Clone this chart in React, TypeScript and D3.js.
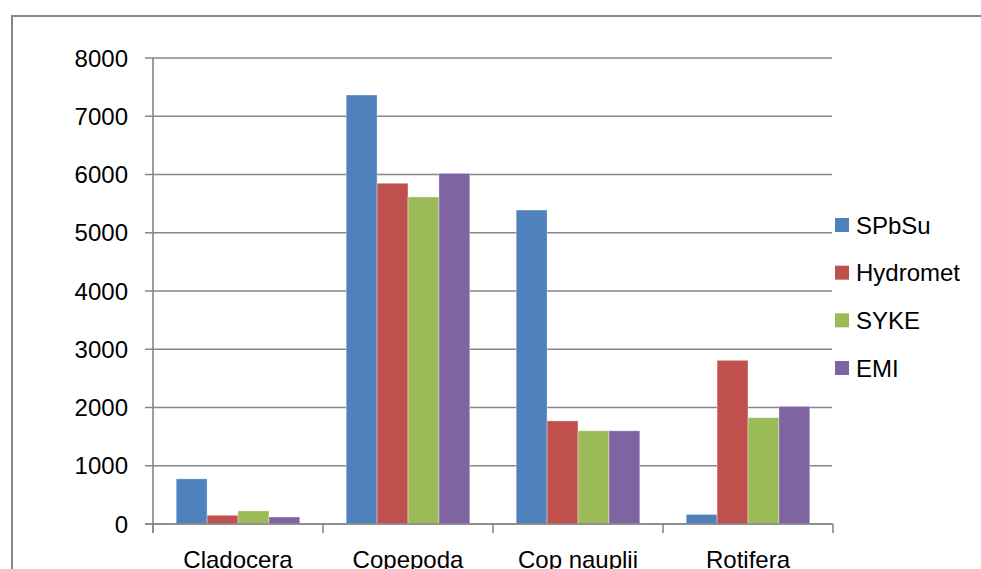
import React from "react";
import * as d3 from "d3";

const categories = ["Cladocera", "Copepoda", "Cop nauplii", "Rotifera"];
const seriesNames = ["SPbSu", "Hydromet", "SYKE", "EMI"];
const spbsu = [775, 7365, 5390, 165];
const hydromet = [150, 5850, 1770, 2810];
const syke = [225, 5615, 1600, 1825];
const emi = [120, 6020, 1600, 2020];
const yTicks = [0, 1000, 2000, 3000, 4000, 5000, 6000, 7000, 8000];
const colors = ["#4F81BD", "#C0504D", "#9BBB59", "#8064A2"];

const W = 981;
const H = 569;
const FONT = "'Liberation Sans', Arial, sans-serif";

export default function App() {
  const values = [spbsu, hydromet, syke, emi];
  const x0 = d3.scaleBand().domain(categories).range([153, 833]).paddingInner(0).paddingOuter(0);
  const y = d3.scaleLinear().domain([0, 8000]).range([524, 58]);
  const groupW = x0.bandwidth();
  const barW = groupW / (seriesNames.length + 1.5);
  const x1 = d3
    .scaleBand()
    .domain(seriesNames)
    .range([(groupW - barW * seriesNames.length) / 2, (groupW + barW * seriesNames.length) / 2]);

  const catTicks = categories.map((c) => x0(c)!).concat([833]);
  const legendY = d3.scalePoint().domain(seriesNames).range([225, 368]);

  return (
    <svg
      width={W}
      height={H}
      style={{ position: "absolute", left: 0, top: 0, display: "block", background: "#fff" }}
      fontFamily={FONT}
    >
      {/* chart frame */}
      <rect x={12} y={16} width={1000} height={600} fill="#fff" stroke="#868686" strokeWidth={2} />

      {/* gridlines and y ticks */}
      {yTicks.map((t) => (
        <g key={t}>
          <line x1={145} x2={832} y1={y(t)} y2={y(t)} stroke="#868686" strokeWidth={1.6} />
          <text x={128} y={y(t)} dy="0.36em" textAnchor="end" fontSize={24} fill="#000">
            {t}
          </text>
        </g>
      ))}

      {/* bars */}
      {categories.map((c, ci) => (
        <g key={c} transform={`translate(${x0(c)},0)`}>
          {seriesNames.map((s, si) => (
            <rect
              key={s}
              x={x1(s)!}
              y={y(values[si][ci])}
              width={x1.bandwidth()}
              height={y(0) - y(values[si][ci])}
              fill={colors[si]}
              stroke="rgba(255,255,255,0.45)"
              strokeWidth={0.8}
            />
          ))}
        </g>
      ))}

      {/* axes */}
      <line x1={153} x2={153} y1={58} y2={533} stroke="#868686" strokeWidth={1.6} />
      <line x1={145} x2={833} y1={524} y2={524} stroke="#868686" strokeWidth={1.6} />
      {catTicks.map((t, i) => (
        <line key={i} x1={t} x2={t} y1={524} y2={533} stroke="#868686" strokeWidth={1.6} />
      ))}
      {categories.map((c) => (
        <text key={c} x={x0(c)! + groupW / 2} y={568} textAnchor="middle" fontSize={24} fill="#000">
          {c}
        </text>
      ))}

      {/* legend */}
      {seriesNames.map((s, si) => (
        <g key={s} transform={`translate(0,${legendY(s)})`}>
          <rect x={835} y={-7} width={14} height={14} fill={colors[si]} />
          <text x={856} y={0} dy="0.36em" fontSize={24} fill="#000">
            {s}
          </text>
        </g>
      ))}
    </svg>
  );
}
